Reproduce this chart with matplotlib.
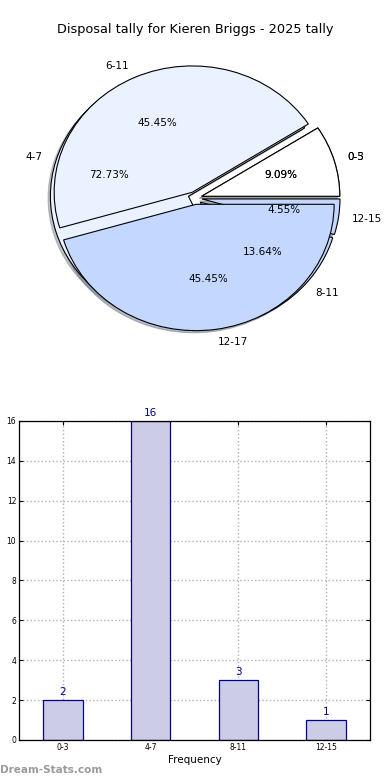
import numpy as np
import matplotlib
matplotlib.use("Agg")
import matplotlib.pyplot as plt

# data ########################################################
title = "Disposal tally for Kieren Briggs - 2025 tally"

bins_a = ["0-3", "4-7", "8-11", "12-15"]
counts_a = [2, 16, 3, 1]

bins_b = ["0-5", "6-11", "12-17"]
counts_b = [2, 10, 10]

pie_colors = ["#ffffff", "#eaf1ff", "#c4d8ff", "#c4d8ff"]
bar_face = "#cccce6"
bar_edge = "#00008b"

fig = plt.figure(figsize=(3.9, 7.8), dpi=100)
fig.text(0.5, 1 - 30 / 780, title, ha="center", va="center", fontsize=9.3)

# Pie ##########################################################
ax1 = fig.add_axes([0.0577, 0.5436, 0.885, 0.405])
txt = dict(fontsize=7.5)
shadow = dict(ox=-0.012, oy=-0.012, shade=0.45)
ax1.pie(counts_a, labels=bins_a, colors=pie_colors[:4], explode=[0.05] * 4,
        autopct="%1.2f%%", shadow=shadow, startangle=0, counterclock=True,
        wedgeprops=dict(edgecolor="black", linewidth=0.8), textprops=txt)
ax1.pie(counts_b, labels=bins_b, colors=pie_colors[:3], explode=[0.05] * 3,
        autopct="%1.2f%%", shadow=shadow, startangle=0, counterclock=True,
        wedgeprops=dict(edgecolor="black", linewidth=0.8), textprops=txt)
ax1.set_aspect("auto")
ax1.set_xlim(-1.25, 1.25)
ax1.set_ylim(-1.25, 1.25)
ax1.axis("off")

# Bars #########################################################
ax2 = fig.add_axes([0.0487, 0.0513, 0.9, 0.409])
x = np.arange(len(bins_a))
ax2.bar(x, counts_a, width=0.45, color=bar_face, edgecolor=bar_edge, linewidth=0.9, zorder=2)
for xi, c in zip(x, counts_a):
    ax2.text(xi, c + 0.15, str(c), ha="center", va="bottom", color=bar_edge, fontsize=7.5)
ax2.set_xlim(-0.5, 3.5)
ax2.set_ylim(0, 16)
ax2.set_yticks(np.arange(0, 17, 2))
ax2.set_xticks(x)
ax2.set_xticklabels(bins_a)
ax2.tick_params(axis="both", direction="in", length=3, labelsize=5.5, top=True, right=True, pad=2)
ax2.grid(True, linestyle=":", color="#b0b0b0", linewidth=1.0, zorder=0)
ax2.set_axisbelow(True)
ax2.set_xlabel("Frequency", fontsize=7.5, labelpad=2)
ax2.set_ylabel("Disposal Tally", fontsize=7.5)
ax2.yaxis.set_label_coords(-0.085, 0.5)
for s in ax2.spines.values():
    s.set_linewidth(0.9)

fig.text(0.0, 1 - 770 / 780, "Dream-Stats.com", ha="left", va="center",
         fontsize=7.5, fontweight="bold", color="#9a9a9a")

plt.savefig("out.png", dpi=100)
